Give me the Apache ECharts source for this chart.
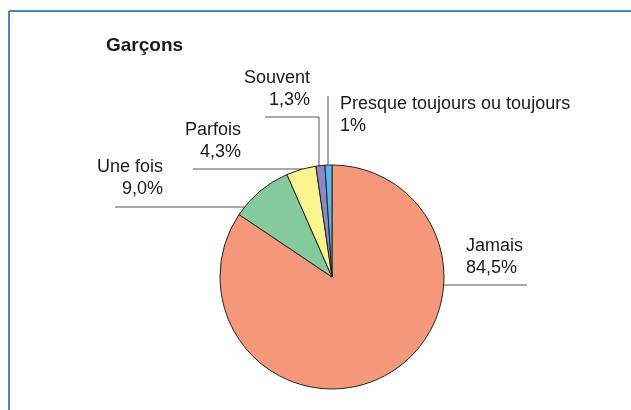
<!DOCTYPE html>
<html>
<head>
<meta charset="utf-8">
<script src="https://cdn.jsdelivr.net/npm/echarts@6/dist/echarts.min.js"></script>
<style>
  html, body { margin: 0; padding: 0; background: #fff; }
  #chart { width: 631px; height: 410px; }
</style>
</head>
<body>
<div id="chart"></div>
<script>
  // données : réponses des garçons
  const categories = ['Jamais', 'Une fois', 'Parfois', 'Souvent', 'Presque toujours ou toujours']
  const values = [84.5, 9.0, 4.3, 1.3, 1]
  const pctLabels = ['84,5%', '9,0%', '4,3%', '1,3%', '1%']
  const colors = ['#F59879', '#84CA9C', '#FBF38E', '#8D86C4', '#55B8EA']

  // géométrie du camembert
  const cx = 332, cy = 277, r = 112
  // point du bord pour une hauteur donnée (côté gauche ou droit)
  const edgeX = (y, side) => cx + side * Math.sqrt(r * r - (y - cy) * (y - cy))
  const edgeY = (x) => cy - Math.sqrt(r * r - (x - cx) * (x - cx))

  // placement des étiquettes et des traits de rappel
  const labelPos = [
    { x: 466, y: 257, align: 'left', line: [[527, 285], [edgeX(285, 1), 285]] },
    { x: 163, y: 178, align: 'right', line: [[115, 207], [edgeX(207, -1), 207]] },
    { x: 241, y: 141, align: 'right', line: [[193, 169], [edgeX(169, -1), 169]] },
    { x: 310, y: 89, align: 'right', line: [[265, 117], [319, 117], [319, edgeY(319)]] },
    { x: 340, y: 115, align: 'left', line: [[328, 96], [328, edgeY(328)]] }
  ]

  const chart = echarts.init(document.getElementById('chart'))
  chart.setOption({
    animation: false,
    graphic: [
      // cadre bleu
      { type: 'line', shape: { x1: 9, y1: 11, x2: 631, y2: 11 }, style: { stroke: '#4f86b8', lineWidth: 2 } },
      { type: 'line', shape: { x1: 9, y1: 11, x2: 9, y2: 410 }, style: { stroke: '#4f86b8', lineWidth: 2 } },
      {
        type: 'text', left: 106, top: 36,
        style: { text: 'Garçons', font: 'bold 19px "Liberation Sans", Arial, sans-serif', fill: '#1a1a1a' }
      }
    ],
    series: [{
      type: 'pie',
      center: [cx, cy],
      radius: r,
      startAngle: 90,
      clockwise: true,
      avoidLabelOverlap: false,
      emphasis: { disabled: true },
      itemStyle: { borderColor: '#222', borderWidth: 1 },
      label: {
        show: true,
        position: 'outside',
        formatter: (p) => p.name + '\n' + pctLabels[p.dataIndex],
        fontFamily: '"Liberation Sans", Arial, sans-serif',
        fontSize: 18,
        lineHeight: 22,
        color: '#1a1a1a'
      },
      labelLine: { show: true, lineStyle: { color: '#555', width: 1 } },
      labelLayout: (params) => {
        const lp = labelPos[params.dataIndex]
        return {
          x: lp.x,
          y: lp.y,
          align: lp.align,
          verticalAlign: 'middle',
          labelLinePoints: lp.line
        }
      },
      data: categories.map((name, i) => ({
        name: name,
        value: values[i],
        itemStyle: { color: colors[i] }
      }))
    }]
  })
</script>
</body>
</html>
